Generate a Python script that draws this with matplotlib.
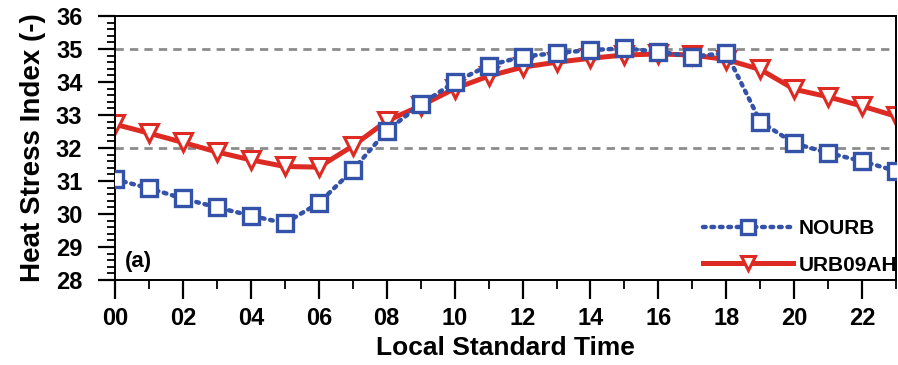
import matplotlib
matplotlib.use('Agg')
import matplotlib.pyplot as plt
from matplotlib.ticker import MultipleLocator

plt.rcParams['font.family'] = ['Liberation Sans', 'DejaVu Sans']
plt.rcParams['font.weight'] = 'bold'

hours = list(range(24))
hour_labels = ['00', '02', '04', '06', '08', '10', '12', '14', '16', '18', '20', '22']

nourb = [31.05, 30.78, 30.47, 30.2, 29.95, 29.72, 30.33, 31.33, 32.52, 33.32, 34.0, 34.5,
         34.77, 34.88, 34.97, 35.02, 34.92, 34.77, 34.88, 32.8, 32.14, 31.85, 31.6, 31.3]
urb09ah = [32.72, 32.45, 32.17, 31.88, 31.64, 31.44, 31.42, 32.06, 32.82, 33.28, 33.8, 34.18,
           34.45, 34.6, 34.72, 34.82, 34.85, 34.82, 34.68, 34.38, 33.78, 33.55, 33.27, 32.96]
ref_lines = [32, 35]

fig = plt.figure(figsize=(8.98, 3.65), dpi=100)
ax = fig.add_axes([0.128, 0.233, 0.87, 0.723])

for v in ref_lines:
    ax.axhline(v, color='#8c8c8c', lw=2, ls=(0, (3, 2.2)), zorder=1)

ax.plot(hours, nourb, color='#3352a8', lw=3.2, ls=(0, (0.6, 1.3)), dash_capstyle='round',
        marker='s', ms=12, mfc='white', mec='#3352a8', mew=2.4, label='NOURB', zorder=3)
ax.plot(hours, urb09ah, color='#dd2a22', lw=3.6,
        marker='v', ms=13, mfc='white', mec='#dd2a22', mew=2.2, label='URB09AH', zorder=2)

ax.set_xlim(0, 23)
ax.set_ylim(28, 36)
ax.set_xticks(range(0, 24, 2))
ax.set_xticklabels(hour_labels)
ax.xaxis.set_minor_locator(MultipleLocator(1))
ax.yaxis.set_major_locator(MultipleLocator(1))
ax.yaxis.set_minor_locator(MultipleLocator(0.2))

# outward ticks, NCL style
ax.tick_params(axis='x', which='major', direction='out', length=13.5, width=1.6,
               color='black', labelsize=17, pad=6)
ax.tick_params(axis='y', which='major', direction='out', length=12.5, width=1.6,
               color='black', labelsize=17, pad=11)
ax.tick_params(axis='x', which='minor', direction='out', length=6.5, width=1.3, color='black')
ax.tick_params(axis='y', which='minor', direction='out', length=6, width=1.3, color='black')
for s in ax.spines.values():
    s.set_linewidth(1.4)

ax.set_xlabel('Local Standard Time', fontsize=19, fontweight='bold', labelpad=4)
ax.set_ylabel('Heat Stress Index (-)', fontsize=20, fontweight='bold', labelpad=7)

ax.text(0.013, 0.05, '(a)', transform=ax.transAxes, fontsize=16, fontweight='bold',
        va='baseline')

ax.legend(loc='lower left', bbox_to_anchor=(0.753, 0.02), frameon=False, fontsize=15,
          handlelength=4.3, labelspacing=0.85, handletextpad=0.3, borderaxespad=0,
          borderpad=0, markerscale=0.8)

fig.savefig('out.png', dpi=100)
